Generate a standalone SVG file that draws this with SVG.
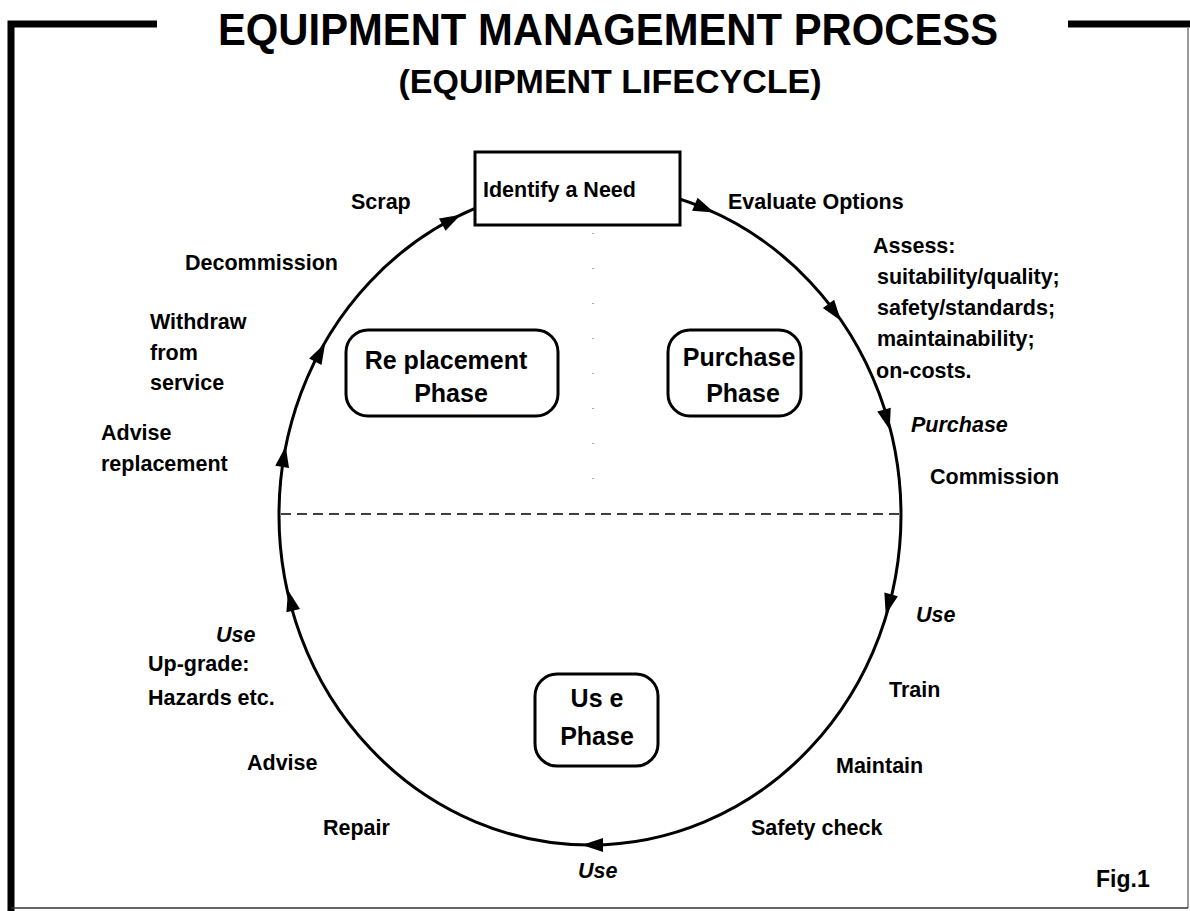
<svg xmlns="http://www.w3.org/2000/svg" width="1190" height="911" viewBox="0 0 1190 911">
<style>
text{font-family:"Liberation Sans",Arial,sans-serif;font-weight:bold;fill:#000}
.lbl{font-size:21.5px}
.it{font-style:italic}
.ph{font-size:25px;text-anchor:middle}
.box{fill:#fff;stroke:#000;stroke-width:3}
.arr{fill:#000}
</style>
<defs>
<polygon id="ah" points="10,0 -11,-7 -11,7"/>
</defs>
<rect width="1190" height="911" fill="#fff"/>
<g id="frame" fill="none">
<path d="M11 911 V24 H157" stroke="#000" stroke-width="7"/>
<path d="M1068 24 H1190" stroke="#000" stroke-width="7"/>
<path d="M1188 28 V908" stroke="#777" stroke-width="1.5"/>
<path d="M11 908 H1188" stroke="#333" stroke-width="1.5"/>
</g>
<g id="title">
<text x="608" y="45" font-size="44" text-anchor="middle" textLength="780" lengthAdjust="spacingAndGlyphs">EQUIPMENT MANAGEMENT PROCESS</text>
<text x="610" y="93" font-size="34" text-anchor="middle">(EQUIPMENT LIFECYCLE)</text>
</g>
<g id="connectors">
<line x1="593" y1="233" x2="593" y2="514" stroke="#555" stroke-width="1" stroke-dasharray="1 34"/>
<line x1="281" y1="514" x2="900" y2="514" stroke="#000" stroke-width="1.5" stroke-dasharray="10 6"/>
<ellipse cx="590" cy="515" rx="311" ry="330" fill="none" stroke="#000" stroke-width="3"/>
<use href="#ah" class="arr" transform="translate(705,208.6) rotate(23.1)"/>
<use href="#ah" class="arr" transform="translate(835,312.7) rotate(53.9)"/>
<use href="#ah" class="arr" transform="translate(887,420.2) rotate(74.3)"/>
<use href="#ah" class="arr" transform="translate(888.3,605) rotate(104.9)"/>
<use href="#ah" class="arr" transform="translate(592,845) rotate(180)"/>
<use href="#ah" class="arr" transform="translate(290.5,600) rotate(-104.1)"/>
<use href="#ah" class="arr" transform="translate(284,456) rotate(-80.3)"/>
<use href="#ah" class="arr" transform="translate(320.5,352) rotate(-61.9)"/>
<use href="#ah" class="arr" transform="translate(452,219.5) rotate(-27.9)"/>
</g>
<g id="identify-need">
<rect class="box" x="475" y="152" width="205" height="73"/>
<text class="lbl" x="483" y="197">Identify a Need</text>
</g>
<g id="replacement-phase">
<rect class="box" x="346" y="330" width="212" height="86" rx="22"/>
<text class="ph" x="446" y="369">Re placement</text>
<text class="ph" x="451" y="402">Phase</text>
</g>
<g id="purchase-phase">
<rect class="box" x="668" y="330" width="133" height="86" rx="22"/>
<text class="ph" x="739" y="366">Purchase</text>
<text class="ph" x="743" y="402">Phase</text>
</g>
<g id="use-phase">
<rect class="box" x="535" y="674" width="123" height="92" rx="22"/>
<text class="ph" x="597" y="707">Us e</text>
<text class="ph" x="597" y="745">Phase</text>
</g>
<g id="labels" class="lbl">
<text class="lbl" x="351" y="209">Scrap</text>
<text class="lbl" x="728" y="209">Evaluate Options</text>
<text class="lbl" x="873" y="253">Assess:</text>
<text class="lbl" x="877" y="284">suitability/quality;</text>
<text class="lbl" x="877" y="315">safety/standards;</text>
<text class="lbl" x="877" y="346">maintainability;</text>
<text class="lbl" x="876" y="378">on-costs.</text>
<text class="lbl it" x="911" y="432">Purchase</text>
<text class="lbl" x="930" y="484">Commission</text>
<text class="lbl it" x="916" y="622">Use</text>
<text class="lbl" x="889" y="697">Train</text>
<text class="lbl" x="836" y="773">Maintain</text>
<text class="lbl" x="751" y="835">Safety check</text>
<text class="lbl it" x="578" y="878">Use</text>
<text class="lbl" x="323" y="835">Repair</text>
<text class="lbl" x="247" y="770">Advise</text>
<text class="lbl" x="148" y="671">Up-grade:</text>
<text class="lbl" x="148" y="705">Hazards etc.</text>
<text class="lbl it" x="216" y="642">Use</text>
<text class="lbl" x="101" y="440">Advise</text>
<text class="lbl" x="101" y="471">replacement</text>
<text class="lbl" x="150" y="329">Withdraw</text>
<text class="lbl" x="150" y="360">from</text>
<text class="lbl" x="150" y="390">service</text>
<text class="lbl" x="185" y="270">Decommission</text>
<text x="1096" y="887" font-size="23">Fig.1</text>
</g>
</svg>
